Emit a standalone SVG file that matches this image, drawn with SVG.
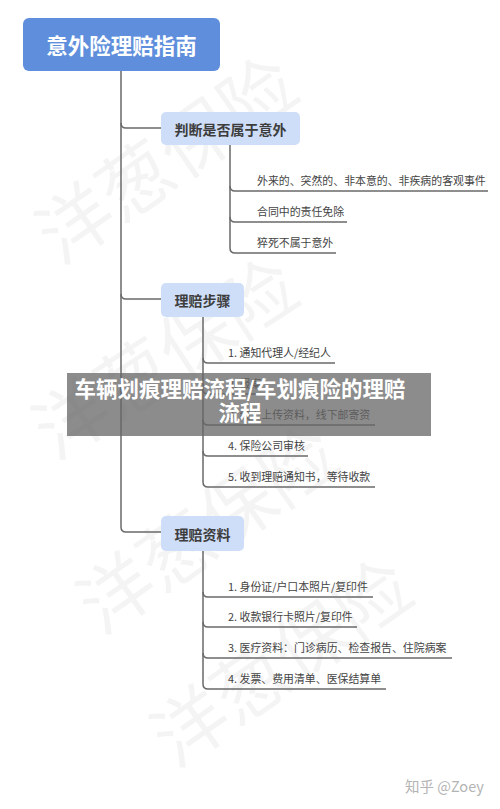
<svg xmlns="http://www.w3.org/2000/svg" width="500" height="809" viewBox="0 0 500 809">
<style>
.wm{font-family:"Noto Sans CJK SC",sans-serif;font-size:74px;fill:#000;fill-opacity:0.045;text-anchor:middle;dominant-baseline:central}
.root{fill:#5f8fdc}
.rootT{font-family:"Noto Sans CJK SC",sans-serif;font-size:21.5px;font-weight:bold;fill:#fff;text-anchor:middle;dominant-baseline:central}
.br{fill:#cfdef8}
.brT{font-family:"Noto Sans CJK SC",sans-serif;font-size:14px;font-weight:bold;fill:#3d3d3d;text-anchor:middle;dominant-baseline:central}
.leaf{font-family:"Noto Sans CJK SC",sans-serif;font-size:10.9px;fill:#444}
.ln{fill:none;stroke:#6a6a6a;stroke-width:1.5}
.ov{font-family:"Noto Sans CJK SC",sans-serif;font-size:21.5px;font-weight:bold;fill:#fff;text-anchor:middle}
.sig{font-family:"Noto Sans CJK SC","Liberation Sans",sans-serif;font-size:14.5px;fill:#b4b4b4}
</style>
<rect width="500" height="809" fill="#fff"/>
<g id="watermarks">
<text class="wm" transform="translate(163,155) rotate(-35)">洋葱保险</text>
<text class="wm" transform="translate(162,354) rotate(-33)">洋葱保险</text>
<text class="wm" transform="translate(204,525) rotate(-35)">洋葱保险</text>
<text class="wm" transform="translate(278,658) rotate(-35)">洋葱保险</text>
</g>
<g id="connectors">
<path class="ln" d="M121,71 V527 Q121,532 126,532 H161"/>
<path class="ln" d="M121,123 Q121,128 126,128 H161"/>
<path class="ln" d="M121,294 Q121,299 126,299 H161"/>
<path class="ln" d="M230,145 V248 Q230,253 235,253 H336"/>
<path class="ln" d="M230,186 Q230,191 235,191 H488"/>
<path class="ln" d="M230,217 Q230,222 235,222 H347"/>
<path class="ln" d="M203,317 V482 Q203,487 208,487 H375"/>
<path class="ln" d="M203,358 Q203,363 208,363 H335"/>
<path class="ln" d="M203,389 Q203,394 208,394 H272"/>
<path class="ln" d="M203,420 Q203,425 208,425 H375"/>
<path class="ln" d="M203,451 Q203,456 208,456 H308"/>
<path class="ln" d="M203,551 V684 Q203,689 208,689 H386"/>
<path class="ln" d="M203,592 Q203,597 208,597 H373"/>
<path class="ln" d="M203,622 Q203,627 208,627 H357"/>
<path class="ln" d="M203,653 Q203,658 208,658 H452"/>
</g>
<g id="root">
<rect class="root" x="23" y="18" width="197" height="53" rx="6"/>
<text class="rootT" x="121.5" y="44.5">意外险理赔指南</text>
</g>
<g id="branch1">
<rect class="br" x="161" y="112" width="139" height="33" rx="5"/>
<text class="brT" x="230.5" y="128.5">判断是否属于意外</text>
</g>
<g id="b1-1"><text class="leaf" x="257" y="185">外来的、突然的、非本意的、非疾病的客观事件</text></g>
<g id="b1-2"><text class="leaf" x="257" y="216">合同中的责任免除</text></g>
<g id="b1-3"><text class="leaf" x="257" y="247">猝死不属于意外</text></g>
<g id="branch2">
<rect class="br" x="161" y="283" width="83" height="34" rx="5"/>
<text class="brT" x="202.5" y="300">理赔步骤</text>
</g>
<g id="b2-1"><text class="leaf" x="228" y="357">1. 通知代理人/经纪人</text></g>
<g id="b2-2"><text class="leaf" x="228" y="388">2. 报案</text></g>
<g id="b2-3"><text class="leaf" x="228" y="419">3. 线上上传资料，线下邮寄资</text></g>
<g id="b2-4"><text class="leaf" x="228" y="450">4. 保险公司审核</text></g>
<g id="b2-5"><text class="leaf" x="228" y="481">5. 收到理赔通知书，等待收款</text></g>
<g id="branch3">
<rect class="br" x="161" y="516" width="83" height="35" rx="5"/>
<text class="brT" x="202.5" y="533.5">理赔资料</text>
</g>
<g id="b3-1"><text class="leaf" x="228" y="591">1. 身份证/户口本照片/复印件</text></g>
<g id="b3-2"><text class="leaf" x="228" y="621">2. 收款银行卡照片/复印件</text></g>
<g id="b3-3"><text class="leaf" x="228" y="652">3. 医疗资料：门诊病历、检查报告、住院病案</text></g>
<g id="b3-4"><text class="leaf" x="228" y="683">4. 发票、费用清单、医保结算单</text></g>
<g id="overlay">
<rect x="67" y="373" width="364" height="63" fill="#666" fill-opacity="0.75"/>
<text class="ov" x="240" y="397">车辆划痕理赔流程/车划痕险的理赔</text>
<text class="ov" x="240" y="421">流程</text>
</g>
<g id="signature"><text class="sig" x="405" y="792">知乎 @Zoey</text></g>
</svg>
